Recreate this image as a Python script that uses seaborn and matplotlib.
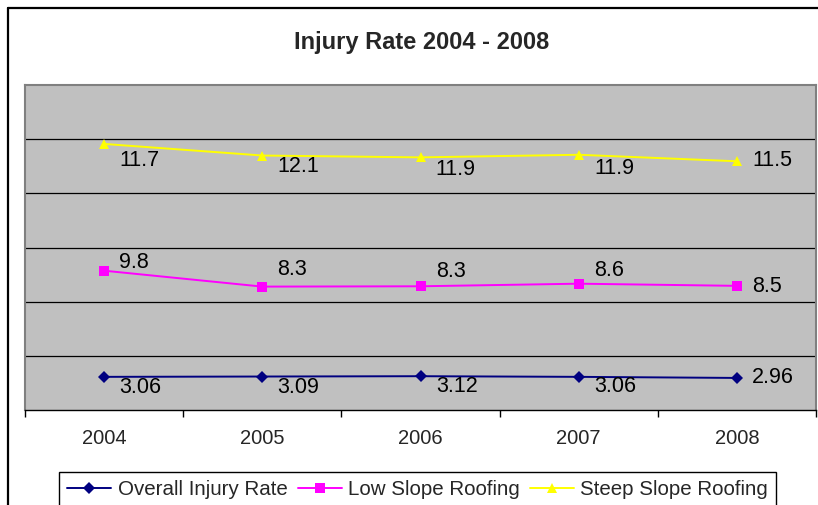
import pandas as pd
import seaborn as sns
import matplotlib.pyplot as plt
from matplotlib.lines import Line2D

# chart data (Excel-style stacked line chart, labels show the raw values)
years = ["2004", "2005", "2006", "2007", "2008"]
overall_rate = [3.06, 3.09, 3.12, 3.06, 2.96]
low_slope = [9.8, 8.3, 8.3, 8.6, 8.5]
steep_slope = [11.7, 12.1, 11.9, 11.9, 11.5]
series_names = ["Overall Injury Rate", "Low Slope Roofing", "Steep Slope Roofing"]

# label placement (pixels below the marker, per series / year)
label_dy_px = {
    "Overall Injury Rate": [11, 11, 10, 10, 0],
    "Low Slope Roofing": [-8, -17, -15, -13, 1],
    "Steep Slope Roofing": [17, 11, 12, 14, -1],
}

wide = pd.DataFrame(dict(zip(series_names, [overall_rate, low_slope, steep_slope])), index=years)
stacked = wide.cumsum(axis=1)
df = stacked.reset_index(names="year").melt(id_vars="year", var_name="series", value_name="stacked")
df["value"] = wide.reset_index(names="year").melt(id_vars="year", var_name="series")["value"]
df["pos"] = df["year"].map({y: i for i, y in enumerate(years)})

sns.set_style("white")
plt.rcParams["font.family"] = ["Liberation Sans", "DejaVu Sans"]

W, H = 818, 505
fig = plt.figure(figsize=(W / 100, H / 100), dpi=100)
ax = fig.add_axes([25 / W, 1 - 410 / H, 791 / W, 325 / H])
ax.set_facecolor("#C0C0C0")

palette = {series_names[0]: "#000080", series_names[1]: "#FF00FF", series_names[2]: "#FFFF00"}
markers = {series_names[0]: "D", series_names[1]: "s", series_names[2]: "^"}
sns.lineplot(data=df, x="pos", y="stacked", hue="series", style="series",
             markers=markers, dashes=False, palette=palette, linewidth=1.4,
             markersize=6.5, markeredgewidth=0, legend=False, ax=ax)

lines = ax.lines[:3]
lines[2].set_markersize(7.5)

# data labels
for _, row in df.iterrows():
    dy = label_dy_px[row["series"]][row["pos"]]
    ax.annotate(f"{row['value']:g}", (row["pos"], row["stacked"]),
                xytext=(11, -dy * 0.72), textcoords="offset points",
                ha="left", va="center", fontsize=15.5, color="black")

ax.set_xlim(-0.5, 4.5)
ax.set_ylim(0, 30)
ax.set_yticks([5, 10, 15, 20, 25])
ax.yaxis.grid(True, color="black", linewidth=0.9)
ax.tick_params(axis="y", left=False, labelleft=False)
ax.set_xticks(range(len(years)))
ax.set_xticklabels(years, fontsize=14.5)
ax.set_xticks([i - 0.5 for i in range(len(years) + 1)], minor=True)
ax.tick_params(axis="x", which="major", length=0, pad=14)
ax.tick_params(axis="x", which="minor", length=5, width=1, color="black", direction="out", bottom=True)
ax.set_xlabel("")
ax.set_ylabel("")

for side in ["left", "top", "right"]:
    ax.spines[side].set_color("#808080")
    ax.spines[side].set_linewidth(1.5)
ax.spines["bottom"].set_color("black")
ax.spines["bottom"].set_linewidth(1)

fig.text(0.515, 1 - 42 / H, "Injury Rate 2004 - 2008", ha="center", va="center",
         fontsize=17, fontweight="bold")

fig.legend(lines, series_names, loc="upper left", bbox_to_anchor=(59 / W, 1 - 472 / H),
           ncol=3, frameon=True, fancybox=False, edgecolor="black", framealpha=1,
           borderaxespad=0, handlelength=2.15, handletextpad=0.3, columnspacing=0.5,
           borderpad=0.4, fontsize=14.8)

# chart border (only left/top visible in the crop)
fig.add_artist(Line2D([8 / W, 8 / W], [0, 1 - 8 / H], transform=fig.transFigure, color="black", linewidth=1.6))
fig.add_artist(Line2D([8 / W, 1], [1 - 8 / H, 1 - 8 / H], transform=fig.transFigure, color="black", linewidth=1.6))

fig.savefig("out.png", dpi=100)
